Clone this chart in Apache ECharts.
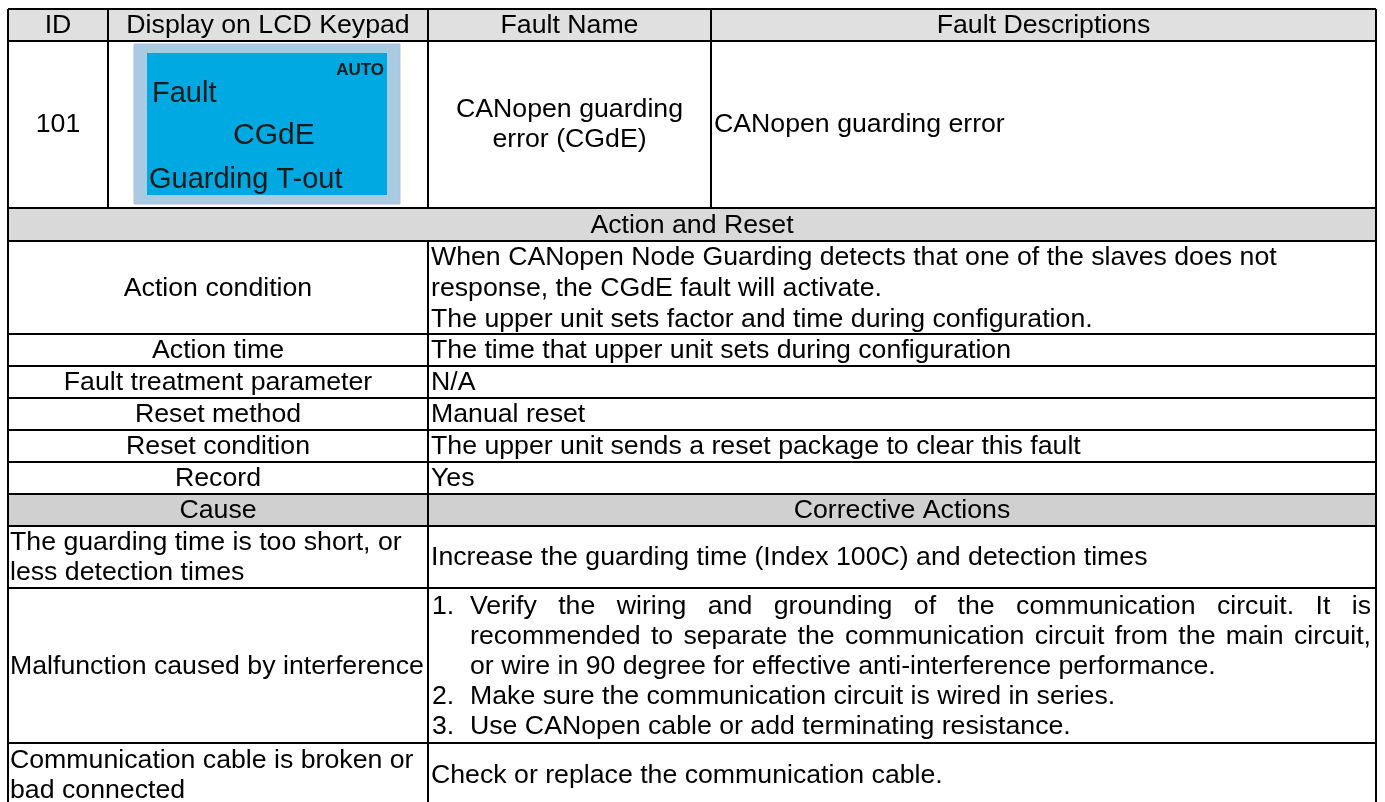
<!DOCTYPE html>
<html>
<head>
<meta charset="utf-8">
<script src="https://cdn.jsdelivr.net/npm/echarts@6/dist/echarts.min.js"></script>
<style>
html,body{margin:0;padding:0;background:#fff;}
#c{width:1385px;height:802px;}
</style>
</head>
<body>
<div id="c"></div>
<script>
// ---- table content ----
const headers = ['ID', 'Display on LCD Keypad', 'Fault Name', 'Fault Descriptions'];
const faultId = '101';
const lcdLines = ['AUTO', 'Fault', 'CGdE', 'Guarding T-out'];
const faultName = ['CANopen guarding', 'error (CGdE)'];
const faultDesc = 'CANopen guarding error';
const sectionTitle = 'Action and Reset';
const actionLabels = ['Action condition', 'Action time', 'Fault treatment parameter', 'Reset method', 'Reset condition', 'Record'];
const actionValues = [
  ['When CANopen Node Guarding detects that one of the slaves does not', 'response, the CGdE fault will activate.', 'The upper unit sets factor and time during configuration.'],
  ['The time that upper unit sets during configuration'],
  ['N/A'],
  ['Manual reset'],
  ['The upper unit sends a reset package to clear this fault'],
  ['Yes']
];
const causeHeader = ['Cause', 'Corrective Actions'];
const causes = [
  ['The guarding time is too short, or', 'less detection times'],
  ['Malfunction caused by interference'],
  ['Communication cable is broken or', 'bad connected']
];
const correctiveActions = [
  { list: false, lines: ['Increase the guarding time (Index 100C) and detection times'] },
  { list: true, items: [
      { num: '1.', lines: ['Verify the wiring and grounding of the communication circuit. It is', 'recommended to separate the communication circuit from the main circuit,', 'or wire in 90 degree for effective anti-interference performance.'], justify: [true, true, false] },
      { num: '2.', lines: ['Make sure the communication circuit is wired in series.'], justify: [false] },
      { num: '3.', lines: ['Use CANopen cable or add terminating resistance.'], justify: [false] }
  ] },
  { list: false, lines: ['Check or replace the communication cable.'] }
];

// ---- layout ----
const FF = '"Liberation Sans", Arial, sans-serif';
const FS = 26.7;
const FONT = FS + 'px ' + FF;
const LH = 30;
const X0 = 8, X1 = 108, XM = 428, X3 = 711, X4 = 1376;
const rowY = [9, 41, 208, 241, 334, 366, 398, 430, 462, 494, 526, 588, 743, 806];
const els = [];
const measureCtx = document.createElement('canvas').getContext('2d');
measureCtx.font = FONT;

function rect(x, y, w, h, fill, stroke) {
  els.push({ type: 'rect', shape: { x, y, width: w, height: h }, style: { fill, stroke: stroke || null, lineWidth: stroke ? 1 : 0 }, silent: true });
}
function line(x1, y1, x2, y2, w) {
  els.push({ type: 'line', shape: { x1, y1, x2, y2 }, style: { stroke: '#000', lineWidth: w || 2 }, silent: true });
}
function text(t, x, y, align, opts) {
  opts = opts || {};
  els.push({ type: 'text', x: 0, y: 0, silent: true, style: {
    text: t, x, y, font: opts.font || FONT, fill: opts.fill || '#000',
    align: align || 'left', verticalAlign: 'middle', textAlign: align || 'left', textVerticalAlign: 'middle'
  } });
}
function justified(t, xStart, xEnd, y) {
  const words = t.split(' ');
  const widths = words.map(w => measureCtx.measureText(w).width);
  const total = widths.reduce((a, b) => a + b, 0);
  const gap = (xEnd - xStart - total) / (words.length - 1);
  let x = xStart;
  words.forEach((w, i) => { text(w, x, y, 'left'); x += widths[i] + gap; });
}

// backgrounds
rect(X0, rowY[0], X4 - X0, rowY[1] - rowY[0], '#e0e0e0');
rect(X0, rowY[2], X4 - X0, rowY[3] - rowY[2], '#d9d9d9');
rect(X0, rowY[9], X4 - X0, rowY[10] - rowY[9], '#d0d0d0');

// LCD display
rect(134, 44, 266, 160, '#a9cbe2', '#b4bce6');
rect(147, 53, 240, 142, '#00a9e1');
text(lcdLines[0], 384, 70, 'right', { font: 'bold 17px ' + FF, fill: '#1a1a1a' });
text(lcdLines[1], 152, 94, 'left', { font: '29px ' + FF, fill: '#1a1a1a' });
text(lcdLines[2], 233, 136, 'left', { font: '30px ' + FF, fill: '#1a1a1a' });
text(lcdLines[3], 149, 180, 'left', { font: '29px ' + FF, fill: '#1a1a1a' });

// header row
const hc = [X0, X1, XM, X3, X4];
headers.forEach((h, i) => text(h, (hc[i] + hc[i + 1]) / 2, (rowY[0] + rowY[1]) / 2 + 1, 'center'));
// first data row
const r1c = (rowY[1] + rowY[2]) / 2;
text(faultId, (X0 + X1) / 2, r1c, 'center');
text(faultName[0], (XM + X3) / 2, r1c - 15, 'center');
text(faultName[1], (XM + X3) / 2, r1c + 15, 'center');
text(faultDesc, X3 + 3, r1c, 'left');
// section title
text(sectionTitle, (X0 + X4) / 2, (rowY[2] + rowY[3]) / 2 + 1, 'center');
// action rows
actionLabels.forEach((lab, i) => {
  const top = rowY[3 + i], bot = rowY[4 + i];
  text(lab, (X0 + XM) / 2, (top + bot) / 2 + 1, 'center');
  const vals = actionValues[i];
  const start = (top + bot) / 2 + 1 - (vals.length - 1) * 31 / 2;
  vals.forEach((v, j) => text(v, XM + 3, start + j * 31, 'left'));
});
// cause header
text(causeHeader[0], (X0 + XM) / 2, (rowY[9] + rowY[10]) / 2 + 1, 'center');
text(causeHeader[1], (XM + X4) / 2, (rowY[9] + rowY[10]) / 2 + 1, 'center');
// cause rows
causes.forEach((c, i) => {
  const top = rowY[10 + i], bot = rowY[11 + i];
  const mid = (top + bot) / 2 + 1;
  const start = mid - (c.length - 1) * LH / 2;
  c.forEach((l, j) => text(l, X0 + 2, start + j * LH, 'left'));
  const ca = correctiveActions[i];
  if (!ca.list) {
    const s2 = mid - (ca.lines.length - 1) * LH / 2;
    ca.lines.forEach((l, j) => text(l, XM + 3, s2 + j * LH, 'left'));
  } else {
    let n = 0;
    ca.items.forEach(it => n += it.lines.length);
    let y = mid - (n - 1) * LH / 2;
    ca.items.forEach(it => {
      text(it.num, XM + 4, y, 'left');
      it.lines.forEach((l, j) => {
        if (it.justify[j]) justified(l, 470, X4 - 5, y); else text(l, 470, y, 'left');
        y += LH;
      });
    });
  }
});

// grid lines
rowY.forEach((y, i) => { if (i < rowY.length - 1) line(X0, y, X4, y, 2); });
line(X0, rowY[0], X0, 806, 2);
line(X4, rowY[0], X4, 806, 2);
line(X1, rowY[0], X1, rowY[2], 2);
line(XM, rowY[0], XM, rowY[2], 2);
line(X3, rowY[0], X3, rowY[2], 2);
line(XM, rowY[3], XM, 806, 2);
line(XM, rowY[9], XM, rowY[10], 2);

const chart = echarts.init(document.getElementById('c'), null, { renderer: 'canvas' });
chart.setOption({ animation: false, backgroundColor: '#fff', graphic: { elements: els } });
</script>
</body>
</html>
